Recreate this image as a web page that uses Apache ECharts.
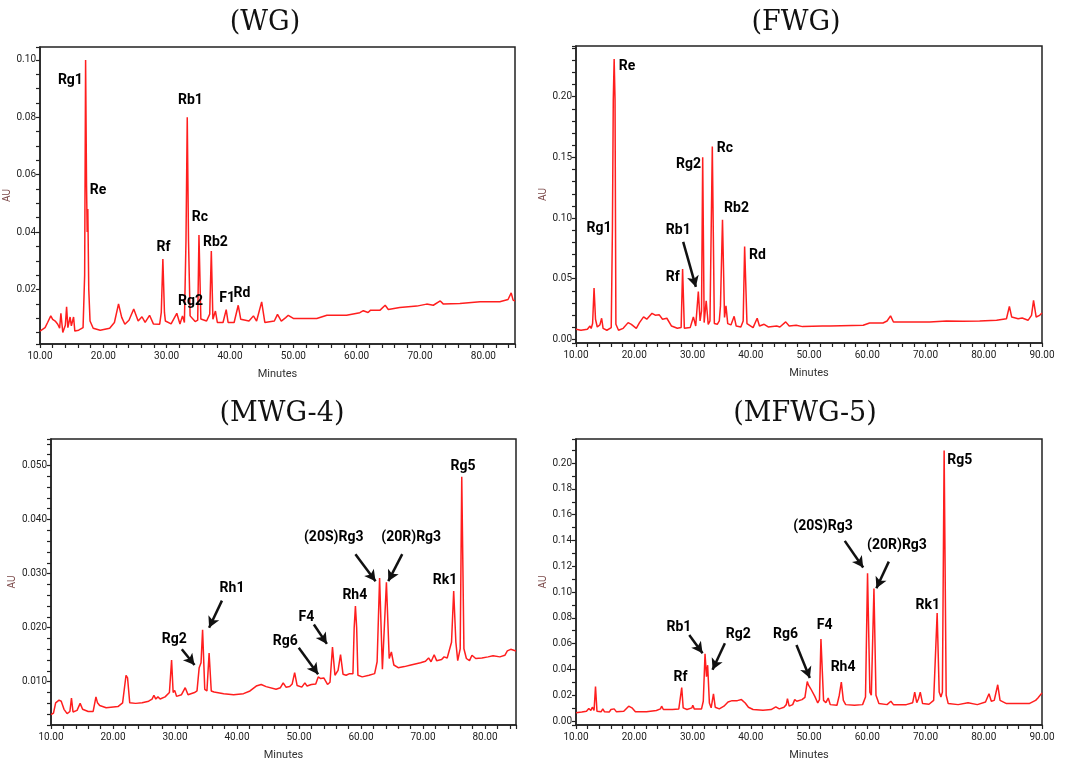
<!DOCTYPE html>
<html>
<head>
<meta charset="utf-8">
<script src="https://cdn.jsdelivr.net/npm/echarts@6/dist/echarts.min.js"></script>
<style>
  html, body { margin: 0; padding: 0; background: #fff; }
  #chart { width: 1066px; height: 762px; }
</style>
</head>
<body>
<div id="chart"></div>
<script>
// chromatogram traces: [minutes, AU]
const wgTrace = [[10.0,0.0055],[10.8,0.0067],[11.2,0.0085],[11.7,0.0108],[12.0,0.0096],[12.4,0.009],[12.8,0.0079],[13.1,0.0065],[13.3,0.0117],[13.6,0.005],[14.0,0.0075],[14.2,0.014],[14.4,0.0067],[14.75,0.0104],[14.95,0.0073],[15.3,0.0104],[15.5,0.0055],[16.1,0.0058],[16.8,0.0067],[17.05,0.025],[17.2,0.1],[17.35,0.056],[17.45,0.04],[17.55,0.048],[17.7,0.02],[17.9,0.009],[18.4,0.0065],[19.5,0.0058],[21.0,0.0065],[21.75,0.0085],[22.4,0.015],[22.9,0.0103],[23.4,0.0079],[24.05,0.0093],[24.8,0.0132],[25.5,0.009],[26.1,0.0105],[26.6,0.0085],[27.3,0.011],[27.9,0.008],[28.9,0.0079],[29.15,0.012],[29.4,0.0306],[29.65,0.012],[29.8,0.009],[30.7,0.008],[31.6,0.0117],[32.1,0.008],[32.5,0.0108],[32.8,0.0085],[33.05,0.037],[33.25,0.08],[33.45,0.037],[33.7,0.0108],[34.0,0.011],[34.5,0.0088],[34.9,0.0093],[35.1,0.039],[35.4,0.0097],[36.3,0.009],[36.8,0.0114],[37.05,0.0334],[37.3,0.0096],[37.7,0.0125],[38.0,0.0085],[38.9,0.0085],[39.4,0.013],[39.7,0.0085],[40.65,0.0085],[41.3,0.0145],[41.7,0.0096],[43.0,0.009],[43.7,0.0108],[44.2,0.009],[45.0,0.0157],[45.5,0.0085],[47.0,0.009],[47.5,0.0113],[48.1,0.009],[48.8,0.0102],[49.2,0.011],[50.0,0.0099],[53.7,0.0099],[55.3,0.011],[58.4,0.011],[58.7,0.0116],[60.5,0.0119],[61.05,0.0126],[61.8,0.012],[62.2,0.0128],[63.7,0.0128],[64.5,0.0145],[65.0,0.013],[66.8,0.0137],[69.5,0.0142],[71.05,0.0149],[72.1,0.0145],[73.2,0.016],[73.7,0.0149],[76.3,0.0151],[79.5,0.0157],[82.6,0.0157],[83.9,0.0165],[84.4,0.0188],[84.7,0.0163],[85.0,0.016]];

const fwgTrace = [[10.0,0.0083],[10.85,0.0075],[11.95,0.0083],[12.4,0.011],[12.6,0.009],[12.85,0.013],[13.1,0.0423],[13.35,0.0166],[13.65,0.0102],[14.1,0.0119],[14.4,0.0174],[14.65,0.0091],[15.3,0.0075],[16.05,0.0097],[16.25,0.0898],[16.4,0.1975],[16.55,0.231],[16.7,0.1975],[16.85,0.0124],[17.3,0.0075],[18.1,0.0091],[18.95,0.0138],[19.5,0.0124],[20.35,0.0091],[20.9,0.0138],[21.6,0.0185],[22.15,0.0166],[23.05,0.0215],[23.6,0.0199],[24.3,0.0202],[24.85,0.0166],[25.6,0.0174],[26.4,0.011],[27.4,0.0091],[28.05,0.0097],[28.3,0.058],[28.6,0.0091],[29.6,0.0097],[30.15,0.0185],[30.55,0.011],[31.0,0.0395],[31.3,0.0152],[31.55,0.0235],[31.75,0.15],[32.0,0.0138],[32.35,0.0318],[32.7,0.0124],[33.0,0.0152],[33.4,0.159],[33.75,0.013],[34.25,0.0124],[34.6,0.0152],[34.8,0.0276],[35.15,0.0986],[35.5,0.018],[35.75,0.0276],[36.05,0.013],[36.6,0.0119],[37.15,0.019],[37.5,0.011],[38.3,0.0102],[38.7,0.0152],[38.95,0.0765],[39.35,0.013],[40.4,0.0097],[41.1,0.0174],[41.5,0.011],[42.3,0.0124],[43.0,0.0102],[44.45,0.011],[45.0,0.0102],[46.0,0.0144],[46.6,0.011],[47.8,0.0116],[48.9,0.0105],[52.3,0.011],[53.6,0.011],[59.3,0.0116],[60.4,0.0135],[62.7,0.0135],[63.4,0.0151],[64.0,0.0193],[64.5,0.0143],[67.9,0.0143],[70.7,0.0143],[73.6,0.0151],[76.4,0.0149],[79.3,0.0151],[82.2,0.0157],[83.9,0.017],[84.4,0.0272],[84.8,0.0184],[85.9,0.017],[86.6,0.0176],[87.6,0.0157],[88.2,0.0198],[88.55,0.0322],[89.0,0.0184],[89.6,0.0198],[90.0,0.0217]];

const mwgTrace = [[10.0,0.0039],[10.4,0.0042],[10.75,0.0061],[11.3,0.0066],[11.65,0.0064],[12.1,0.0049],[12.6,0.0041],[13.05,0.0045],[13.3,0.007],[13.55,0.0044],[14.2,0.0047],[14.7,0.006],[15.1,0.0049],[16.0,0.0045],[16.8,0.0045],[17.25,0.0072],[17.5,0.0061],[17.85,0.0056],[18.9,0.0052],[20.8,0.0054],[21.55,0.0061],[22.1,0.0112],[22.35,0.0107],[22.7,0.0061],[23.65,0.006],[24.7,0.0061],[25.75,0.0064],[26.3,0.0068],[26.6,0.0075],[26.9,0.0068],[27.25,0.0072],[27.6,0.0068],[28.4,0.0072],[29.1,0.008],[29.45,0.014],[29.7,0.008],[29.95,0.0084],[30.25,0.0073],[31.05,0.0076],[31.65,0.0089],[32.1,0.0076],[33.15,0.008],[33.55,0.0083],[33.9,0.0126],[34.2,0.0135],[34.45,0.0196],[34.8,0.0086],[35.15,0.0083],[35.5,0.0153],[35.85,0.0083],[36.3,0.0081],[37.85,0.0078],[39.45,0.0076],[41.05,0.0078],[42.1,0.0083],[43.1,0.0092],[43.9,0.0095],[44.7,0.0091],[46.3,0.0086],[47.0,0.0089],[47.45,0.0098],[47.9,0.009],[48.5,0.0091],[48.9,0.0096],[49.3,0.0117],[49.7,0.0093],[50.45,0.009],[50.95,0.0098],[51.3,0.0092],[52.0,0.0095],[52.7,0.0096],[53.1,0.0109],[53.5,0.0106],[54.0,0.0107],[54.6,0.0095],[55.0,0.0099],[55.4,0.0164],[55.8,0.0112],[56.3,0.0121],[56.7,0.015],[57.1,0.0114],[57.6,0.0112],[58.15,0.0115],[58.7,0.0115],[58.9,0.02],[59.1,0.024],[59.3,0.02],[59.5,0.0112],[60.2,0.0109],[61.3,0.0112],[62.2,0.0115],[62.6,0.0137],[63.0,0.0292],[63.45,0.0123],[63.7,0.0121],[64.1,0.0284],[64.55,0.0143],[64.9,0.0155],[65.3,0.0131],[66.0,0.0126],[67.0,0.0128],[68.05,0.0131],[69.6,0.0135],[70.4,0.0138],[70.9,0.0144],[71.3,0.0137],[71.8,0.015],[72.2,0.0139],[73.0,0.0141],[73.4,0.0146],[73.9,0.0144],[74.6,0.0173],[74.95,0.0268],[75.3,0.0173],[75.6,0.0139],[76.0,0.0161],[76.25,0.0479],[76.6,0.0161],[77.0,0.0143],[77.5,0.0139],[77.9,0.0149],[78.5,0.0143],[79.5,0.0144],[80.5,0.0146],[81.3,0.0148],[82.4,0.0146],[83.2,0.0149],[83.6,0.0157],[84.15,0.016],[85.0,0.0157]];

const mfwgTrace = [[10.0,0.0064],[11.0,0.0069],[11.8,0.0076],[12.2,0.0097],[12.55,0.0082],[12.8,0.0107],[13.1,0.0082],[13.35,0.0268],[13.6,0.0076],[14.3,0.0071],[14.6,0.0094],[14.9,0.0071],[15.7,0.0069],[16.0,0.0089],[16.55,0.0094],[16.95,0.0071],[18.2,0.0076],[19.05,0.0115],[19.6,0.0102],[20.2,0.0071],[22.1,0.0071],[23.8,0.0082],[24.5,0.0094],[24.7,0.0115],[25.0,0.0089],[26.55,0.0089],[27.65,0.0094],[27.95,0.0102],[28.15,0.026],[28.4,0.0102],[29.05,0.0089],[29.9,0.0102],[30.05,0.0122],[30.3,0.0094],[31.55,0.0094],[31.85,0.0153],[32.15,0.0522],[32.4,0.0344],[32.6,0.0433],[32.9,0.014],[33.2,0.0102],[33.6,0.0211],[33.9,0.0107],[34.6,0.0094],[35.4,0.0115],[36.1,0.0148],[36.8,0.0158],[37.7,0.0158],[38.4,0.0166],[39.05,0.014],[39.6,0.0107],[40.4,0.0089],[42.1,0.0084],[43.5,0.0089],[44.3,0.011],[44.9,0.0094],[45.7,0.0107],[46.1,0.0127],[46.3,0.0173],[46.6,0.0115],[47.2,0.0127],[47.55,0.0166],[47.9,0.0153],[48.8,0.0166],[49.3,0.0183],[49.7,0.0306],[49.9,0.028],[50.3,0.025],[51.0,0.0191],[51.5,0.014],[51.8,0.0166],[52.05,0.0636],[52.5,0.016],[52.9,0.0142],[53.3,0.0178],[53.65,0.0127],[54.8,0.0122],[55.2,0.02],[55.55,0.0302],[55.9,0.016],[56.3,0.0127],[57.8,0.0122],[59.2,0.0127],[59.7,0.0186],[60.05,0.1145],[60.45,0.0224],[60.7,0.02],[61.15,0.1027],[61.5,0.02],[62.0,0.0135],[63.4,0.0127],[64.05,0.0153],[64.5,0.0127],[66.7,0.0127],[67.8,0.0142],[68.15,0.0224],[68.5,0.0142],[68.8,0.0173],[69.1,0.0224],[69.5,0.0135],[70.6,0.013],[71.4,0.016],[72.0,0.0837],[72.35,0.0224],[72.65,0.0186],[72.9,0.0224],[73.2,0.2097],[73.55,0.02],[73.9,0.0135],[75.6,0.0127],[77.3,0.0142],[78.9,0.0127],[80.3,0.0147],[80.9,0.0212],[81.3,0.0153],[81.8,0.016],[82.4,0.0281],[82.8,0.016],[83.9,0.0135],[86.2,0.0135],[87.8,0.0135],[88.9,0.016],[89.3,0.0178],[90.0,0.0218]];

// peak names: [text, minutes, AU] of the label centre
const wgPeaks = [['Rg1',14.8,0.093],['Re',19.15,0.0544],['Rb1',33.75,0.086],['Rc',35.25,0.0452],['Rb2',37.7,0.0365],['Rf',29.5,0.0346],['Rg2',33.75,0.0159],['F1',39.55,0.0168],['Rd',41.9,0.0186]];
const fwgPeaks = [['Re',18.75,0.2253],['Rg1',13.95,0.0913],['Rg2',29.3,0.1444],['Rc',35.55,0.157],['Rb1',27.55,0.09],['Rf',26.6,0.0514],['Rb2',37.55,0.1078],['Rd',41.15,0.0693]];
const mwgPeaks = [['Rg5',76.45,0.0498],['(20R)Rg3',68.1,0.0366],['(20S)Rg3',55.6,0.0366],['Rk1',73.55,0.0288],['Rh4',59.0,0.026],['Rh1',39.2,0.0272],['F4',51.2,0.0219],['Rg6',47.8,0.0174],['Rg2',29.87,0.0179]];
const mfwgPeaks = [['Rg5',75.87,0.202],['(20S)Rg3',52.4,0.151],['(20R)Rg3',65.1,0.136],['Rk1',70.4,0.0897],['F4',52.7,0.0738],['Rh4',55.85,0.0415],['Rg6',45.96,0.0672],['Rg2',37.85,0.0672],['Rb1',27.67,0.0723],['Rf',27.95,0.0338]];

// arrows: [fromMin, fromAU, toMin, toAU]
const fwgArrows = [[28.4,0.0803,30.58,0.0432]];
const mwgArrows = [[59.1,0.0336,62.35,0.0286],[66.65,0.0336,64.4,0.0286],[37.57,0.025,35.5,0.02],[31.1,0.016,33.15,0.0131],[52.4,0.0206,54.5,0.017],[49.96,0.0163,53.08,0.0114]];
const mfwgArrows = [[56.14,0.1397,59.3,0.119],[63.7,0.1236,61.57,0.103],[47.85,0.059,50.14,0.0333],[29.44,0.0667,31.73,0.0526],[35.56,0.0603,33.44,0.0397]];

const panelTitles = ['(WG)', '(FWG)', '(MWG-4)', '(MFWG-5)'];

const narrow = "Roboto, 'Liberation Sans', sans-serif";

const panels = [
  { tx: 265, ty: 23, grid: { left: 40, top: 47, width: 475, height: 297 }, xMax: 85,
    y: { min: 0.001, max: 0.1045, splitNumber: 21 }, step: 0.02, first: 1, dec: 2, auGap: 24,
    trace: wgTrace, peaks: wgPeaks, arrows: [] },
  { tx: 796, ty: 23, grid: { left: 576, top: 46, width: 466, height: 297 }, xMax: 90,
    y: { min: -0.003, max: 0.2418, splitNumber: 25 }, step: 0.05, first: 0, dec: 2, auGap: 24,
    trace: fwgTrace, peaks: fwgPeaks, arrows: fwgArrows },
  { tx: 282, ty: 414, grid: { left: 51, top: 439, width: 465, height: 288 }, xMax: 85,
    y: { min: 0.002, max: 0.0549, interval: 0.002 }, step: 0.01, first: 1, dec: 3, auGap: 28,
    trace: mwgTrace, peaks: mwgPeaks, arrows: mwgArrows },
  { tx: 805, ty: 414, grid: { left: 576, top: 439, width: 466, height: 288 }, xMax: 90,
    y: { min: -0.0031, max: 0.2187, splitNumber: 22 }, step: 0.02, first: 0, dec: 2, auGap: 24,
    trace: mfwgTrace, peaks: mfwgPeaks, arrows: mfwgArrows }
];

const chart = echarts.init(document.getElementById('chart'), null, { renderer: 'canvas' });

const grids = [], xAxes = [], yAxes = [], series = [], texts = [];

panels.forEach((p, i) => {
  grids.push(Object.assign({ show: true, borderColor: '#222', borderWidth: 1.5, backgroundColor: '#fff' }, p.grid));

  xAxes.push({
    type: 'value', gridIndex: i, min: 10, max: p.xMax, interval: 2,
    name: 'Minutes', nameLocation: 'middle', nameGap: 25,
    nameTextStyle: { fontFamily: narrow, fontSize: 11, color: '#333' },
    axisLine: { show: true, onZero: false, lineStyle: { color: '#222', width: 1.5 } },
    axisTick: { show: true, length: 4, lineStyle: { color: '#222', width: 1.2 } },
    axisLabel: {
      margin: 7, fontFamily: narrow, fontSize: 10, color: '#222', showMinLabel: true, showMaxLabel: true,
      formatter: v => (Math.abs(v / 10 - Math.round(v / 10)) < 1e-6 ? v.toFixed(2) : '')
    },
    splitLine: { show: false }
  });

  yAxes.push(Object.assign({
    type: 'value', gridIndex: i,
    name: 'AU', nameLocation: 'middle', nameGap: p.auGap,
    nameTextStyle: { fontFamily: narrow, fontSize: 10, color: '#7a4848' },
    axisLine: { show: true, onZero: false, lineStyle: { color: '#222', width: 1.5 } },
    axisTick: { show: true, length: 4, lineStyle: { color: '#222', width: 1.2 } },
    axisLabel: {
      margin: 4, fontFamily: narrow, fontSize: 10, color: '#222',
      formatter: v => {
        const k = v / p.step;
        const r = Math.round(k);
        return (Math.abs(k - r) < 1e-6 && r >= p.first) ? v.toFixed(p.dec) : '';
      }
    },
    splitLine: { show: false }
  }, p.y));

  series.push({
    type: 'line', xAxisIndex: i, yAxisIndex: i, data: p.trace,
    showSymbol: false, symbol: 'none', silent: true,
    lineStyle: { color: '#ff1e1e', width: 1.5 }, z: 2
  });

  series.push({
    type: 'scatter', xAxisIndex: i, yAxisIndex: i, silent: true, z: 5,
    symbolSize: 1, itemStyle: { color: 'rgba(0,0,0,0)' },
    data: p.peaks.map(([n, t, v]) => ({ name: n, value: [t, v] })),
    label: {
      show: true, position: 'inside', formatter: '{b}', opacity: 1,
      fontFamily: narrow, fontSize: 14, fontWeight: 'bold', color: '#000'
    },
    markLine: {
      silent: true, animation: false,
      symbol: ['none', 'arrow'], symbolSize: [9, 11],
      lineStyle: { color: '#111', width: 2.5, type: 'solid' },
      label: { show: false },
      data: p.arrows.map(([a, b, c, d]) => [{ coord: [a, b] }, { coord: [c, d] }])
    }
  });

  texts.push({
    type: 'text', x: p.tx, y: p.ty,
    style: {
      text: panelTitles[i], fill: '#111', align: 'center', verticalAlign: 'middle',
      font: "27px 'DejaVu Serif', 'Liberation Serif', serif"
    }
  });
});

chart.setOption({
  animation: false,
  backgroundColor: '#fff',
  grid: grids,
  xAxis: xAxes,
  yAxis: yAxes,
  series: series,
  graphic: texts
});
</script>
</body>
</html>
